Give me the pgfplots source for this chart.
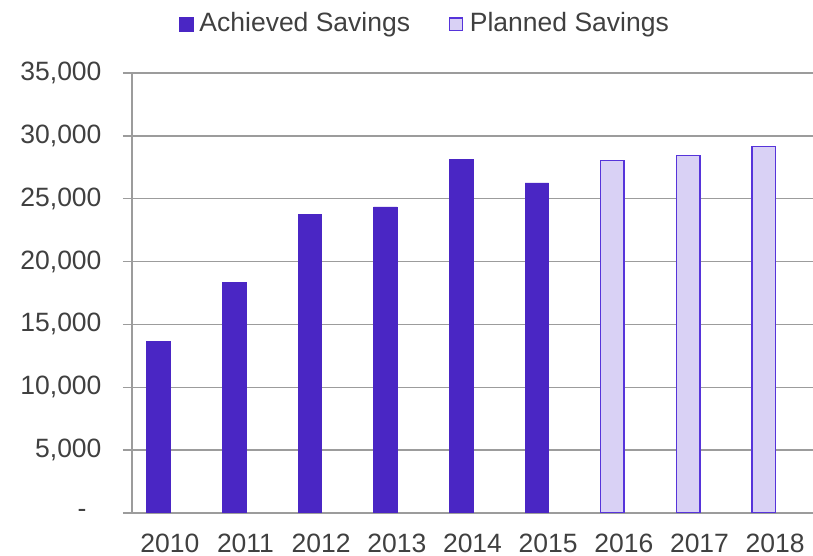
\documentclass[border=0pt]{standalone}
\usepackage{fontspec}
\setmainfont{Liberation Sans}
\usepackage{pgfplots}
\pgfplotsset{compat=1.18}
\definecolor{ach}{HTML}{4A26C4}
\definecolor{plan}{HTML}{D9D1F5}
\definecolor{planedge}{HTML}{5634DA}
\definecolor{gridc}{HTML}{9C9C9C}
\definecolor{txt}{HTML}{404040}
\begin{document}
\begin{tikzpicture}[font=\fontsize{26.5bp}{32bp}\selectfont]
\useasboundingbox (-132bp,-43bp) rectangle (681bp,513bp);
\begin{axis}[
  at={(0,0)}, anchor=south west,
  scale only axis, width=681bp, height=440bp,
  xmin=-0.5, xmax=8.5, ymin=0, ymax=35000,
  ybar, bar width=23.5bp,
  axis x line*=bottom, axis y line*=left,
  axis line style={gridc, line width=1.5bp},
  tick align=outside, major tick length=9bp,
  scaled y ticks=false,
  xtick={0,1,2,3,4,5,6,7,8},
  xticklabels={2010,2011,2012,2013,2014,2015,2016,2017,2018},
  xtick style={draw=none},
  ytick={0,5000,10000,15000,20000,25000,30000,35000},
  yticklabels={{-\kern15bp},{5,000},{10,000},{15,000},{20,000},{25,000},{30,000},{35,000}},
  ytick style={gridc, line width=1.5bp},
  ymajorgrids, major grid style={gridc, line width=1.5bp},
  yticklabel style={text=txt, xshift=-18bp},
  xticklabel style={text=txt, yshift=-8bp},
  legend columns=2,
  legend style={draw=none, fill=none, inner sep=0pt, outer sep=0pt,
    at={(0.069,1.1138)}, anchor=west, text=txt,
    nodes={inner sep=0pt},
    /tikz/every even column/.append style={column sep=39bp}},
]
\addplot[fill=ach, draw=ach, line width=0.5bp, bar shift=-11.4bp,
  legend image code/.code={\fill[ach] (0bp,-8.5bp) rectangle (14bp,5.5bp); \path (20bp,0bp);}]
  coordinates {(0,13650) (1,18350) (2,23750) (3,24350) (4,28150) (5,26250)};
\addplot[fill=plan, draw=planedge, line width=1.6bp, bar shift=-11.4bp,
  legend image code/.code={\filldraw[fill=plan, draw=planedge, line width=1.3bp] (0.65bp,-7.85bp) rectangle (13.35bp,4.85bp); \path (20bp,0bp);}]
  coordinates {(6,28050) (7,28450) (8,29150)};
\legend{Achieved Savings, Planned Savings}
\end{axis}
\end{tikzpicture}
\end{document}
